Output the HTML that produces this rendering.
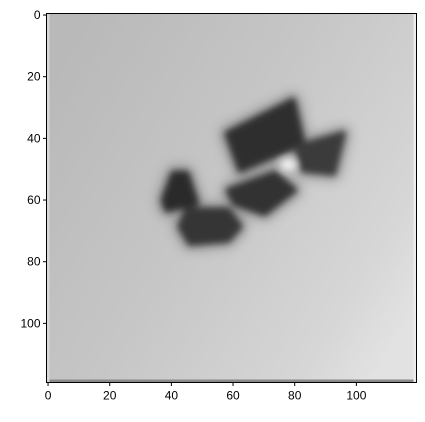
<!DOCTYPE html>
<html><head><meta charset="utf-8"><style>
body{margin:0;background:#fff;width:425px;height:417px;overflow:hidden}
text{font-family:"Liberation Sans","DejaVu Sans",sans-serif;font-size:12px;fill:#000}
</style></head><body>
<svg id="c" width="425" height="417">
<defs>
<linearGradient id="bg" x1="0" y1="0.2" x2="1" y2="0.8">
<stop offset="0" stop-color="#b9b9b9"/><stop offset="0.45" stop-color="#c6c6c6"/><stop offset="0.85" stop-color="#d6d6d6"/><stop offset="1" stop-color="#e2e2e2"/>
</linearGradient>
<filter id="bl" x="-50%" y="-50%" width="200%" height="200%"><feGaussianBlur stdDeviation="3.5"/></filter>
<filter id="bl2" x="-50%" y="-50%" width="200%" height="200%"><feGaussianBlur stdDeviation="6"/></filter>
<clipPath id="cp"><rect x="46.5" y="13.5" width="370" height="369"/></clipPath>
</defs>
<g id="img" clip-path="url(#cp)"></g>
<g id="ax"></g>
</svg>
<script>
const xTicks=[0,20,40,60,80,100];
const yTicks=[0,20,40,60,80,100];
const upperX=[58,79.5,82.7,62.3];
const upperY=[38.4,27.6,41.6,50.3];
const rightX=[80.6,95.8,92.6,82.7];
const rightY=[42.7,38.4,51.3,50.3];
const middleX=[58.4,73.5,80,70.2,60.5];
const middleY=[56.8,51.3,56.8,64.4,61.1];
const leftX=[40.6,45,48.2,38.5,37.4];
const leftY=[51.3,51.3,61.1,63.2,60];
const lowerX=[45,58.4,62.3,58.4,46,42.8];
const lowerY=[63.2,63.2,68.6,73,74,68.6];
const L=46.5,T=13.5,S=370/120;
const X=v=>L+(v+0.5)*S, Y=v=>T+(v+0.5)*S;
const ns="http://www.w3.org/2000/svg";
const img=document.getElementById('img'), ax=document.getElementById('ax');
function mk(t,a,p){const e=document.createElementNS(ns,t);for(const k in a)e.setAttribute(k,a[k]);p.appendChild(e);return e;}
const bg=mk('rect',{x:L,y:T,width:370,height:369,fill:'url(#bg)'},img);


mk('rect',{x:L,y:T+369-3,width:370,height:3,fill:'#8a8a8a'},img);
mk('rect',{x:L,y:T,width:3,height:369,fill:'#d8d8d8'},img);
mk('rect',{x:L+367,y:T,width:3,height:369,fill:'#ececec'},img);
const shapes=[[upperX,upperY,'#2e2e2e'],[rightX,rightY,'#3a3a3a'],[middleX,middleY,'#333'],[leftX,leftY,'#2a2a2a'],[lowerX,lowerY,'#363636']];
const h=mk('g',{filter:'url(#bl2)',opacity:0.45},img);
shapes.forEach(([xs,ys])=>{
 mk('polygon',{points:xs.map((x,i)=>X(x)+','+Y(ys[i])).join(' '),fill:'#555',stroke:'#555','stroke-width':14,'stroke-linejoin':'round'},h);
});
const g=mk('g',{filter:'url(#bl)'},img);
shapes.forEach(([xs,ys,c])=>{
 const p=mk('polygon',{points:xs.map((x,i)=>X(x)+','+Y(ys[i])).join(' '),fill:c,stroke:c,'stroke-width':5,'stroke-linejoin':'round'},g);
 
 
});
mk('ellipse',{cx:X(78),cy:Y(48.5),rx:2.5*S,ry:1.8*S,fill:'#f0f0f0'},g);
const fr=mk('rect',{x:L,y:T,width:370,height:369,fill:'none',stroke:'#000','stroke-width':1},ax);


xTicks.forEach(v=>{
 mk('line',{x1:X(v),x2:X(v),y1:T+369,y2:T+369+3.5,stroke:'#000'},ax);
 const t=mk('text',{x:X(v),y:T+369+17,'text-anchor':'middle'},ax);t.textContent=v;
 
 
});
yTicks.forEach(v=>{
 mk('line',{x1:L-3.5,x2:L,y1:Y(v),y2:Y(v),stroke:'#000'},ax);
 const t=mk('text',{x:L-6,y:Y(v)+4,'text-anchor':'end'},ax);t.textContent=v;
 
 
});
</script>
</body></html>
